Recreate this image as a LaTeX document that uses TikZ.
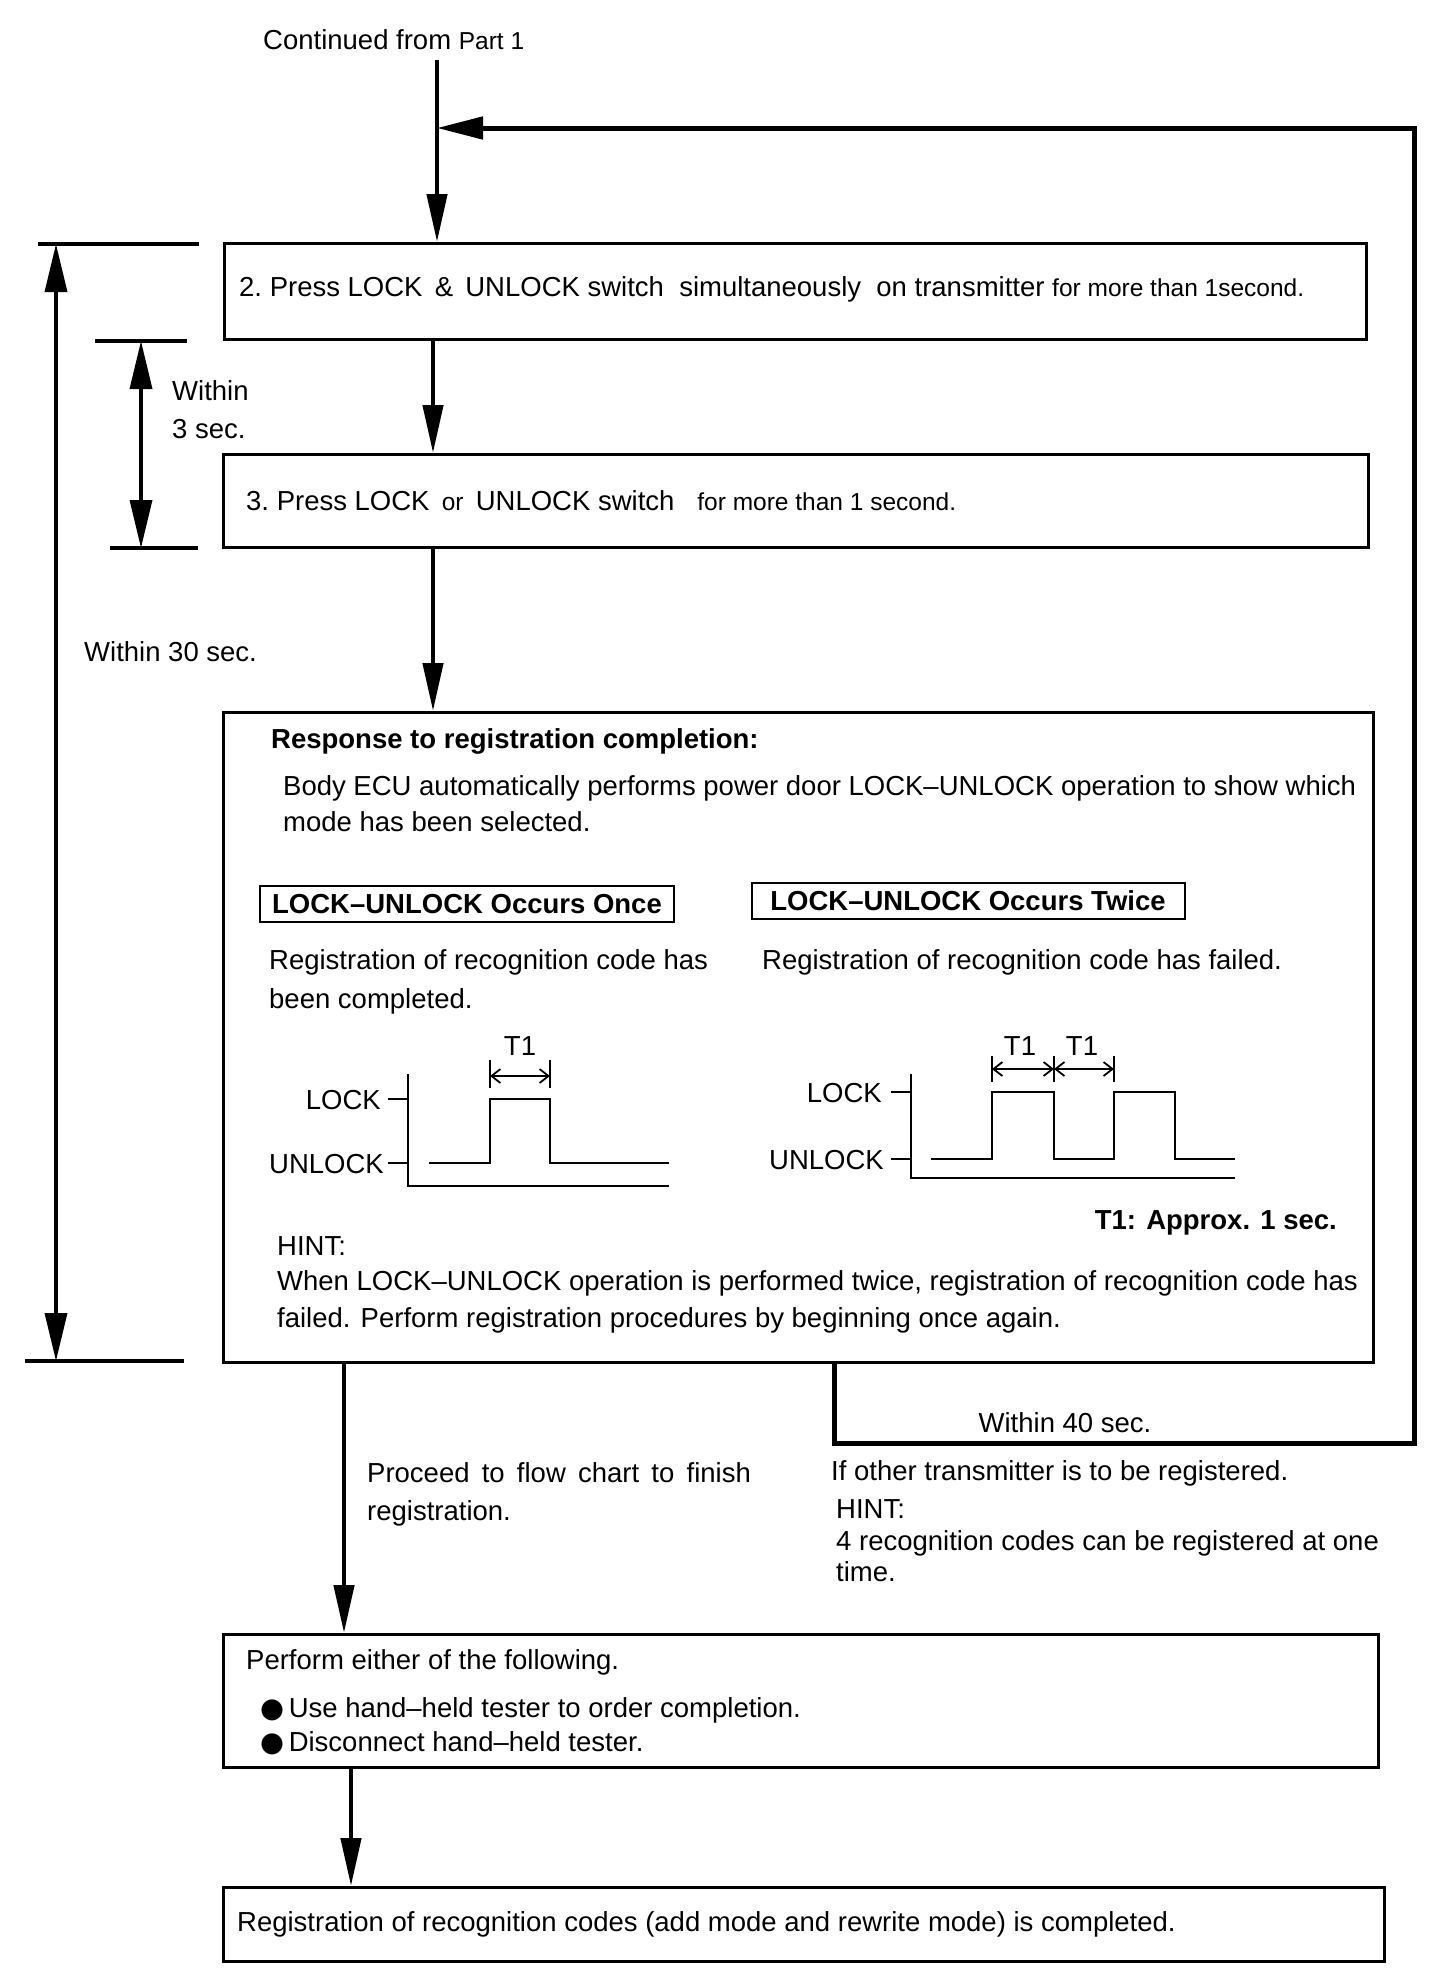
\documentclass[tikz,border=0pt]{standalone}
\usepackage{fontspec}
\setmainfont{Liberation Sans}
\newfontfamily\dejavu{DejaVu Sans}
\usetikzlibrary{arrows.meta}
\newcommand\fsm{\fontsize{27.5}{37}\selectfont}
\newcommand\fss{\fontsize{24.5}{30}\selectfont}
\begin{document}
\begin{tikzpicture}[x=1pt,y=-1pt,
  box/.style={draw, line width=2.5pt, anchor=north west, inner sep=0},
  txt/.style={anchor=base west, inner sep=0, font=\fsm},
  arr/.style={line width=4.5pt, -{Triangle[length=48pt,width=20pt]}},
  fb/.style={line width=5pt},
  dim/.style={line width=3.5pt, {Triangle[length=48pt,width=22pt]}-{Triangle[length=48pt,width=22pt]}},
  tick/.style={line width=3.5pt},
  wave/.style={line width=2pt},
  tarr/.style={line width=1.8pt, {Straight Barb[length=9pt,width=14pt]}-{Straight Barb[length=9pt,width=14pt]}},
  lab/.style={draw, line width=2pt, inner sep=0, minimum height=36pt, font=\fsm\bfseries}]
\useasboundingbox (0,0) rectangle (1456,1986);

% boxes
\node[box, minimum width=1142pt, minimum height=96pt] (b1) at (223,242) {};
\node[box, minimum width=1145pt, minimum height=93pt] (b2) at (222,453) {};
\node[box, minimum width=1150pt, minimum height=650pt] (b3) at (222,711) {};
\node[box, minimum width=1155pt, minimum height=133pt] (b4) at (222,1633) {};
\node[box, minimum width=1161pt, minimum height=74pt] (b5) at (222,1886) {};

% top text and main connectors
\node[txt] (cont) at (263,49) {Continued from {\fss Part 1}};
\coordinate (c0) at (437,60);
\draw[arr] (c0) -- (c0 |- b1.north);
\coordinate (a1) at (433,0);
\draw[arr] (b1.south -| a1) -- (b2.north -| a1);
\draw[arr] (b2.south -| a1) -- (b3.north -| a1);
\coordinate (a3) at (344,0);
\draw[arr] (b3.south -| a3) -- (b4.north -| a3);
\coordinate (a4) at (351,0);
\draw[arr] (b4.south -| a4) -- (b5.north -| a4);

% feedback loop
\coordinate (fx) at (834,0);
\coordinate (f1) at (834,1443);
\coordinate (f2) at (1414,1443);
\coordinate (f3) at (1414,128);
\coordinate (fj) at (437,128);
\draw[fb, -{Triangle[length=46pt,width=22pt]}] (b3.south -| fx) -- (f1) -- (f2) -- (f3) -- (fj);
\node[anchor=base, inner sep=0, font=\fsm] (w40) at (1065,1432) {Within 40 sec.};

% box texts
\node[txt] (t1) at (239,296) {2.\ Press LOCK \,\&\, UNLOCK switch\ \ simultaneously\ \ on transmitter {\fss for more than 1second.}};
\node[txt] (t2) at (246,510) {3.\ Press LOCK\, {\fss or}\, UNLOCK switch\ \ \ {\fss for more than 1 second.}};

% dimension: within 3 sec
\coordinate (d3a) at (95,341); \coordinate (d3b) at (187,341);
\coordinate (d3c) at (110,548); \coordinate (d3d) at (198,548);
\draw[tick] (d3a) -- (d3b);
\draw[tick] (d3c) -- (d3d);
\coordinate (d3t) at (141,341); \coordinate (d3u) at (141,548);
\draw[dim] (d3t) -- (d3u);
\node[txt] (w3a) at (172,400) {Within};
\node[txt] (w3b) at (172,438) {3 sec.};

% dimension: within 30 sec
\coordinate (d30a) at (38,244); \coordinate (d30b) at (199,244);
\coordinate (d30c) at (25,1361); \coordinate (d30d) at (184,1361);
\draw[tick] (d30a) -- (d30b);
\draw[tick] (d30c) -- (d30d);
\coordinate (d30t) at (56,244); \coordinate (d30u) at (56,1361);
\draw[dim] (d30t) -- (d30u);
\node[txt] (w30) at (84,661) {Within 30 sec.};

% box 3 content
\node[txt, font=\fsm\bfseries] (r0) at (271,748) {Response to registration completion:};
\node[txt] (r1) at (283,795) {Body ECU automatically performs power door LOCK–UNLOCK operation to show which};
\node[txt] (r2) at (283,831) {mode has been selected.};
\node[lab, minimum width=414pt] (once) at (467,904) {LOCK–UNLOCK Occurs Once};
\node[lab, minimum width=433pt] (twice) at (968,901) {LOCK–UNLOCK Occurs Twice};
\node[txt] (g1) at (269,969) {Registration of recognition code has};
\node[txt] (g2) at (269,1008) {been completed.};
\node[txt] (g3) at (762,969) {Registration of recognition code has failed.};

% left waveform
\draw[wave] (408,1074) -- (408,1186) -- (669,1186);
\draw[wave] (388,1099) -- (408,1099);
\draw[wave] (388,1163) -- (408,1163);
\draw[wave] (429,1163) -- (490,1163) -- (490,1099) -- (550,1099) -- (550,1163) -- (669,1163);
\draw[wave] (490,1060) -- (490,1088);
\draw[wave] (550,1060) -- (550,1088);
\draw[tarr] (490,1076) -- (550,1076);
\node[anchor=base east, inner sep=0, font=\fsm] (lk1) at (381,1109) {LOCK};
\node[anchor=base east, inner sep=0, font=\fsm] (ul1) at (384,1173) {UNLOCK};
\node[anchor=base, inner sep=0, font=\fsm] (tt1) at (520,1055) {T1};

% right waveform
\draw[wave] (911,1074) -- (911,1178) -- (1235,1178);
\draw[wave] (891,1092) -- (911,1092);
\draw[wave] (891,1159) -- (911,1159);
\draw[wave] (931,1159) -- (992,1159) -- (992,1092) -- (1054,1092) -- (1054,1159) -- (1114,1159) -- (1114,1092) -- (1175,1092) -- (1175,1159) -- (1235,1159);
\draw[wave] (992,1056) -- (992,1082);
\draw[wave] (1054,1056) -- (1054,1082);
\draw[wave] (1114,1056) -- (1114,1082);
\draw[tarr] (992,1069) -- (1054,1069);
\draw[tarr] (1054,1069) -- (1114,1069);
\node[anchor=base east, inner sep=0, font=\fsm] (lk2) at (882,1102) {LOCK};
\node[anchor=base east, inner sep=0, font=\fsm] (ul2) at (884,1169) {UNLOCK};
\node[anchor=base, inner sep=0, font=\fsm] (tt2) at (1020,1055) {T1};
\node[anchor=base, inner sep=0, font=\fsm] (tt3) at (1082,1055) {T1};

\node[anchor=base east, inner sep=0, font=\fsm\bfseries] (ap) at (1337,1229) {T1: Approx. 1 sec.};
\node[txt] (h0) at (277,1255) {HINT:};
\node[txt] (h1) at (277,1290) {When LOCK–UNLOCK operation is performed twice, registration of recognition code has};
\node[txt] (h2) at (277,1327) {failed. Perform registration procedures by beginning once again.};

% below box 3
\node[txt] (p1) at (367,1482) {Proceed\ \,to\ \,flow\ \,chart\ \,to\ \,finish};
\node[txt] (p2) at (367,1520) {registration.};
\node[txt] (o1) at (831,1480) {If other transmitter is to be registered.};
\node[txt] (o2) at (836,1518) {HINT:};
\node[txt] (o3) at (836,1550) {4 recognition codes can be registered at one};
\node[txt] (o4) at (836,1581) {time.};

% box 4
\node[txt] (e0) at (246,1669) {Perform either of the following.};
\node[txt] (e1) at (260,1717) {{\dejavu ●}\,Use hand–held tester to order completion.};
\node[txt] (e2) at (260,1751) {{\dejavu ●}\,Disconnect hand–held tester.};

% box 5
\node[txt] (f0) at (237,1931) {Registration of recognition codes (add mode and rewrite mode) is completed.};
\end{tikzpicture}
\end{document}
